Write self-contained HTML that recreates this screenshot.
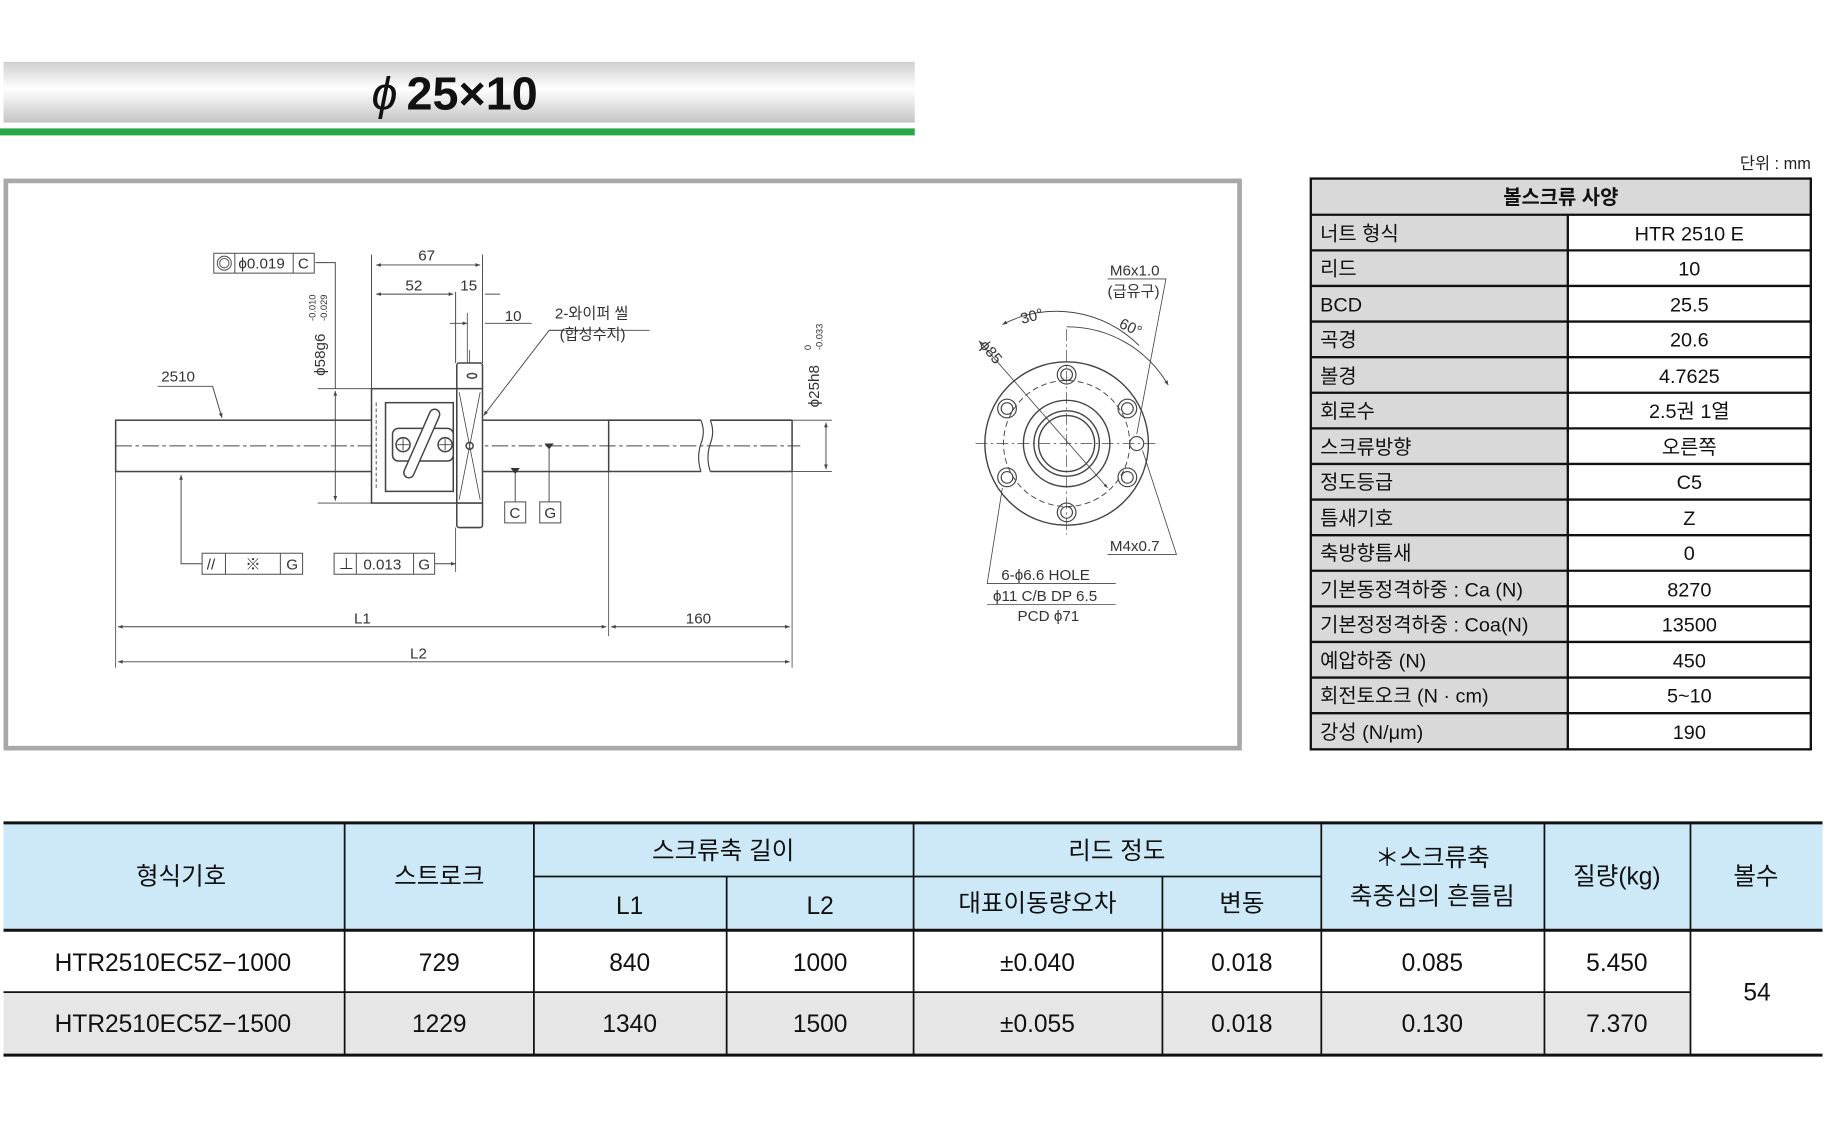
<!DOCTYPE html>
<html><head><meta charset="utf-8"><style>
html,body{margin:0;padding:0;background:#fff;}
svg{display:block;}
text{font-family:"Liberation Sans","Noto Sans CJK KR",sans-serif;}
</style></head><body>
<svg width="1826" height="1138" viewBox="0 0 1563 975" preserveAspectRatio="none" xmlns="http://www.w3.org/2000/svg">
<defs>
<linearGradient id="tg" x1="0" y1="0" x2="0" y2="1">
<stop offset="0" stop-color="#cfcfcf"/><stop offset="0.45" stop-color="#ffffff"/><stop offset="1" stop-color="#c4c4c4"/>
</linearGradient>
<marker id="ar" viewBox="0 0 10 10" refX="10" refY="5" markerWidth="7" markerHeight="5" orient="auto-start-reverse"><path d="M0,1 L10,5 L0,9z" fill="#444"/></marker>
</defs>
<!-- title -->
<rect x="3" y="53" width="780" height="52" fill="url(#tg)"/>
<rect x="0" y="110" width="783" height="6" fill="#27a844"/>
<text x="318" y="94" font-size="40" font-style="italic" fill="#111">ϕ</text>
<text x="348" y="94" font-size="40" font-weight="bold" fill="#111">25×10</text>
<text x="1550" y="145" font-size="14" text-anchor="end" fill="#222">단위 : mm</text>

<!-- drawing frame -->
<rect x="5" y="155" width="1056" height="486" fill="#fff" stroke="#a8a8a8" stroke-width="4"/>

<g stroke="#444" fill="none" stroke-width="1.3">
<!-- shaft -->
<rect x="99" y="360" width="422" height="44"/>
<line x1="521" y1="360" x2="600" y2="360"/><line x1="521" y1="404" x2="600" y2="404"/>
<line x1="608" y1="360" x2="678" y2="360"/><line x1="608" y1="404" x2="678" y2="404"/>
<line x1="678" y1="360" x2="678" y2="404"/>
<path d="M600,360 q4,10 0,20 q-4,12 0,24 M608,360 q4,10 0,20 q-4,12 0,24" stroke-width="1"/>
<line x1="99" y1="382" x2="685" y2="382" stroke-dasharray="14 3 3 3" stroke-width="0.8"/>
<!-- nut -->
<rect x="318" y="333" width="73" height="98" fill="#fff"/>
<rect x="330" y="345" width="58" height="76" fill="#fff"/>
<line x1="322" y1="345" x2="322" y2="420" stroke-dasharray="3 2" stroke-width="0.8"/>
<rect x="336" y="367" width="52" height="28" rx="5" fill="#fff"/>
<circle cx="345" cy="381" r="6"/><circle cx="381" cy="381" r="6"/>
<path d="M340,381h10M345,376v10M376,381h10M381,376v10" stroke-width="0.8"/>
<line x1="372" y1="355" x2="350" y2="405" stroke-width="10" stroke="#444" stroke-linecap="round"/>
<line x1="372" y1="355" x2="350" y2="405" stroke-width="7.5" stroke="#fff" stroke-linecap="round"/>
<!-- flange -->
<rect x="391" y="311" width="22" height="141" rx="2" fill="#fff"/>
<line x1="391" y1="333" x2="413" y2="333"/><line x1="391" y1="431" x2="413" y2="431"/>
<path d="M393,336 L411,428 M411,336 L393,428" stroke-width="0.7"/>
<circle cx="402" cy="382" r="3"/><ellipse cx="404" cy="322" rx="4" ry="2"/>
<line x1="402" y1="300" x2="402" y2="311" stroke-width="0.7"/>
<!-- dimensions top -->
<line x1="318" y1="218" x2="318" y2="333" stroke-width="0.8"/>
<line x1="413" y1="218" x2="413" y2="311" stroke-width="0.8"/>
<line x1="390" y1="250" x2="390" y2="311" stroke-width="0.8"/>
<line x1="322" y1="227" x2="411" y2="227" marker-start="url(#ar)" marker-end="url(#ar)" stroke-width="0.8"/>
<line x1="322" y1="252" x2="388" y2="252" marker-start="url(#ar)" marker-end="url(#ar)" stroke-width="0.8"/>
<line x1="415" y1="252" x2="428" y2="252" stroke-width="0.8"/>
<line x1="385" y1="277" x2="400" y2="277" stroke-width="0.8" marker-end="url(#ar)"/>
<line x1="415" y1="277" x2="455" y2="277" stroke-width="0.8"/>
<line x1="400" y1="268" x2="400" y2="311" stroke-width="0.7"/>
<path d="M505,283 L470,283 L414,356" stroke-width="0.8" marker-end="url(#ar)"/>
<line x1="470" y1="283" x2="556" y2="283" stroke-width="0.8"/>
<!-- phi58 -->
<line x1="272" y1="333" x2="318" y2="333" stroke-width="0.7"/>
<line x1="272" y1="431" x2="318" y2="431" stroke-width="0.7"/>
<line x1="287" y1="335" x2="287" y2="429" marker-start="url(#ar)" marker-end="url(#ar)" stroke-width="0.8"/>
<path d="M270,225 L287,225 L287,333" stroke-width="0.8"/>
<!-- phi25 -->
<line x1="678" y1="360" x2="712" y2="360" stroke-width="0.7"/>
<line x1="678" y1="404" x2="712" y2="404" stroke-width="0.7"/>
<line x1="707" y1="362" x2="707" y2="402" marker-start="url(#ar)" marker-end="url(#ar)" stroke-width="0.8"/>
<!-- 2510 leader -->
<path d="M135,331 L182,331 L190,358" stroke-width="0.8" marker-end="url(#ar)"/>
<!-- bottom -->
<line x1="99" y1="404" x2="99" y2="572" stroke-width="0.7"/>
<line x1="521" y1="404" x2="521" y2="545" stroke-width="0.7"/>
<line x1="678" y1="404" x2="678" y2="572" stroke-width="0.7"/>
<line x1="101" y1="537" x2="519" y2="537" marker-start="url(#ar)" marker-end="url(#ar)" stroke-width="0.8"/>
<line x1="523" y1="537" x2="676" y2="537" marker-start="url(#ar)" marker-end="url(#ar)" stroke-width="0.8"/>
<line x1="101" y1="567" x2="676" y2="567" marker-start="url(#ar)" marker-end="url(#ar)" stroke-width="0.8"/>
<path d="M173,483 L155,483 L155,407" stroke-width="0.8" marker-end="url(#ar)"/>
<path d="M372,483 L390,483" stroke-width="0.8" marker-end="url(#ar)"/>
<line x1="390" y1="452" x2="390" y2="490" stroke-width="0.7"/>
<line x1="441" y1="404" x2="441" y2="430" stroke-width="0.8"/>
<line x1="470" y1="382" x2="470" y2="430" stroke-width="0.8"/>
</g>
<path d="M437,401h8l-4,5z M466,380h8l-4,5z" fill="#333"/>
<!-- frames -->
<g stroke="#555" fill="#fff" stroke-width="0.9">
<rect x="183" y="217" width="86" height="17"/><line x1="201" y1="217" x2="201" y2="234"/><line x1="251" y1="217" x2="251" y2="234"/>
<circle cx="192" cy="225.5" r="6"/><circle cx="192" cy="225.5" r="4"/>
<rect x="173" y="474" width="86" height="18"/><line x1="193" y1="474" x2="193" y2="492"/><line x1="240" y1="474" x2="240" y2="492"/>
<rect x="286" y="474" width="86" height="18"/><line x1="305" y1="474" x2="305" y2="492"/><line x1="354" y1="474" x2="354" y2="492"/>
<rect x="432" y="430" width="18" height="18"/><rect x="462" y="430" width="18" height="18"/>
</g>
<g font-size="13" fill="#333">
<text x="204" y="230">ϕ0.019</text><text x="255" y="230">C</text>
<text x="177" y="488">//</text><text x="210" y="488">※</text><text x="245" y="488">G</text>
<text x="290" y="488">⊥</text><text x="311" y="488">0.013</text><text x="358" y="488">G</text>
<text x="436" y="444">C</text><text x="466" y="444">G</text>
<text x="358" y="223">67</text><text x="347" y="249">52</text><text x="394" y="249">15</text>
<text x="432" y="275">10</text>
<text x="475" y="273">2-와이퍼 씰</text><text x="479" y="291">(합성수지)</text>
<text x="138" y="327">2510</text>
<text x="303" y="534">L1</text><text x="587" y="534">160</text><text x="351" y="564">L2</text>
<text transform="translate(278,322) rotate(-90)">ϕ58g6</text>
<text transform="translate(270,275) rotate(-90)" font-size="8">-0.010</text>
<text transform="translate(280,275) rotate(-90)" font-size="8">-0.029</text>
<text transform="translate(701,349) rotate(-90)">ϕ25h8</text>
<text transform="translate(694,300) rotate(-90)" font-size="8">0</text>
<text transform="translate(704,300) rotate(-90)" font-size="8">-0.033</text>
</g>

<!-- flange view -->
<g stroke="#444" fill="none" stroke-width="1.2">
<circle cx="913" cy="380" r="70" fill="#fff"/>
<circle cx="913" cy="380" r="54" stroke-dasharray="5 3" stroke-width="0.8"/>
<circle cx="913" cy="380" r="37"/>
<circle cx="913" cy="380" r="28"/><circle cx="913" cy="380" r="24"/>
<line x1="835" y1="380" x2="992" y2="380" stroke-dasharray="10 3 2 3" stroke-width="0.6"/>
<line x1="913" y1="282" x2="913" y2="458" stroke-dasharray="10 3 2 3" stroke-width="0.6"/>
<line x1="838" y1="292" x2="948" y2="418" stroke-width="0.7" marker-start="url(#ar)" marker-end="url(#ar)"/>
<path d="M858,278 A100,100 0 0 1 975,296" stroke-width="0.8" marker-start="url(#ar)"/>
<path d="M913,280 A100,100 0 0 1 1000,330" stroke-width="0.8" marker-end="url(#ar)"/>
<g stroke-width="1"><circle cx="913" cy="321" r="8"/><circle cx="913" cy="321" r="5"/>
<circle cx="913" cy="439" r="8"/><circle cx="913" cy="439" r="5"/>
<circle cx="862" cy="350" r="8"/><circle cx="862" cy="350" r="5"/>
<circle cx="965" cy="350" r="8"/><circle cx="965" cy="350" r="5"/>
<circle cx="862" cy="409" r="8"/><circle cx="862" cy="409" r="5"/>
<circle cx="965" cy="409" r="8"/><circle cx="965" cy="409" r="5"/>
<circle cx="973" cy="380" r="6"/></g>
<path d="M948,239 L998,239 L973,372" stroke-width="0.7"/>
<path d="M948,475 L1007,475 L978,386" stroke-width="0.7"/>
<path d="M955,500 L845,500 L858,418" stroke-width="0.7"/>
<line x1="845" y1="518" x2="955" y2="518" stroke-width="0.7"/>
</g>
<g font-size="13" fill="#333">
<text x="950" y="236">M6x1.0</text><text x="948" y="254">(급유구)</text>
<text x="873" y="276" transform="rotate(-15 880 270)">30°</text>
<text x="958" y="284" transform="rotate(25 966 280)">60°</text>
<text transform="translate(838,296) rotate(50)">ϕ85</text>
<text x="950" y="472">M4x0.7</text>
<text x="857" y="497">6-ϕ6.6 HOLE</text>
<text x="850" y="515">ϕ11 C/B DP 6.5</text>
<text x="871" y="532">PCD ϕ71</text>
</g>

<!-- spec table -->
<g>
<rect x="1122" y="153" width="428" height="31" fill="#d9d9d9"/>
<rect x="1122" y="184" width="220" height="458" fill="#d9d9d9"/>
<g stroke="#111" stroke-width="2" fill="none">
<rect x="1122" y="153" width="428" height="489"/>
<line x1="1342" y1="184" x2="1342" y2="642"/>
<line x1="1122" y1="184" x2="1550" y2="184"/>
<line x1="1122" y1="214.5" x2="1550" y2="214.5"/><line x1="1122" y1="245" x2="1550" y2="245"/>
<line x1="1122" y1="275.5" x2="1550" y2="275.5"/><line x1="1122" y1="306" x2="1550" y2="306"/>
<line x1="1122" y1="336.5" x2="1550" y2="336.5"/><line x1="1122" y1="367" x2="1550" y2="367"/>
<line x1="1122" y1="397.5" x2="1550" y2="397.5"/><line x1="1122" y1="428" x2="1550" y2="428"/>
<line x1="1122" y1="458.5" x2="1550" y2="458.5"/><line x1="1122" y1="489" x2="1550" y2="489"/>
<line x1="1122" y1="519.5" x2="1550" y2="519.5"/><line x1="1122" y1="550" x2="1550" y2="550"/>
<line x1="1122" y1="580.5" x2="1550" y2="580.5"/><line x1="1122" y1="611" x2="1550" y2="611"/>
</g>
<g font-size="17" fill="#111">
<text x="1336" y="175" text-anchor="middle" font-weight="bold">볼스크류 사양</text>
<text x="1130" y="206">너트 형식</text><text x="1130" y="236">리드</text><text x="1130" y="267">BCD</text>
<text x="1130" y="297">곡경</text><text x="1130" y="328">볼경</text><text x="1130" y="358">회로수</text>
<text x="1130" y="389">스크류방향</text><text x="1130" y="419">정도등급</text><text x="1130" y="450">틈새기호</text>
<text x="1130" y="480">축방향틈새</text><text x="1130" y="511">기본동정격하중 : Ca (N)</text><text x="1130" y="541">기본정정격하중 : Coa(N)</text>
<text x="1130" y="572">예압하중 (N)</text><text x="1130" y="602">회전토오크 (N · cm)</text><text x="1130" y="633">강성 (N/μm)</text>
</g>
<g font-size="17" fill="#111" text-anchor="middle">
<text x="1446" y="206">HTR 2510 E</text><text x="1446" y="236">10</text><text x="1446" y="267">25.5</text>
<text x="1446" y="297">20.6</text><text x="1446" y="328">4.7625</text><text x="1446" y="358">2.5권 1열</text>
<text x="1446" y="389">오른쪽</text><text x="1446" y="419">C5</text><text x="1446" y="450">Z</text>
<text x="1446" y="480">0</text><text x="1446" y="511">8270</text><text x="1446" y="541">13500</text>
<text x="1446" y="572">450</text><text x="1446" y="602">5~10</text><text x="1446" y="633">190</text>
</g>
</g>

<!-- bottom table -->
<rect x="3" y="705" width="1557" height="92" fill="#cde9f8"/>
<rect x="3" y="850" width="1444" height="53" fill="#e6e6e6"/>
<g stroke="#111" fill="none">
<line x1="3" y1="705" x2="1560" y2="705" stroke-width="2.5"/>
<line x1="3" y1="797" x2="1560" y2="797" stroke-width="2.5"/>
<line x1="3" y1="904" x2="1560" y2="904" stroke-width="2.5"/>
<line x1="457" y1="751" x2="1131" y2="751" stroke-width="1.5"/>
<line x1="3" y1="850" x2="1447" y2="850" stroke-width="1.5"/>
<g stroke-width="1.5">
<line x1="295" y1="705" x2="295" y2="904"/><line x1="457" y1="705" x2="457" y2="904"/>
<line x1="622" y1="751" x2="622" y2="904"/><line x1="782" y1="705" x2="782" y2="904"/>
<line x1="995" y1="751" x2="995" y2="904"/><line x1="1131" y1="705" x2="1131" y2="904"/>
<line x1="1322" y1="705" x2="1322" y2="904"/><line x1="1447" y1="705" x2="1447" y2="904"/>
</g>
</g>
<g font-size="21" fill="#111" text-anchor="middle">
<text x="155" y="758">형식기호</text><text x="376" y="758">스트로크</text>
<text x="619" y="736">스크류축 길이</text><text x="956" y="736">리드 정도</text>
<text x="539" y="783">L1</text><text x="702" y="783">L2</text>
<text x="888" y="781">대표이동량오차</text><text x="1063" y="781">변동</text>
<text x="1226" y="742">＊스크류축</text><text x="1226" y="775">축중심의 흔들림</text>
<text x="1384" y="758">질량(kg)</text><text x="1503" y="758">볼수</text>
<text x="148" y="832">HTR2510EC5Z−1000</text><text x="376" y="832">729</text><text x="539" y="832">840</text>
<text x="702" y="832">1000</text><text x="888" y="832">±0.040</text><text x="1063" y="832">0.018</text>
<text x="1226" y="832">0.085</text><text x="1384" y="832">5.450</text>
<text x="148" y="884">HTR2510EC5Z−1500</text><text x="376" y="884">1229</text><text x="539" y="884">1340</text>
<text x="702" y="884">1500</text><text x="888" y="884">±0.055</text><text x="1063" y="884">0.018</text>
<text x="1226" y="884">0.130</text><text x="1384" y="884">7.370</text>
<text x="1504" y="857">54</text>
</g>
</svg>
</body></html>
